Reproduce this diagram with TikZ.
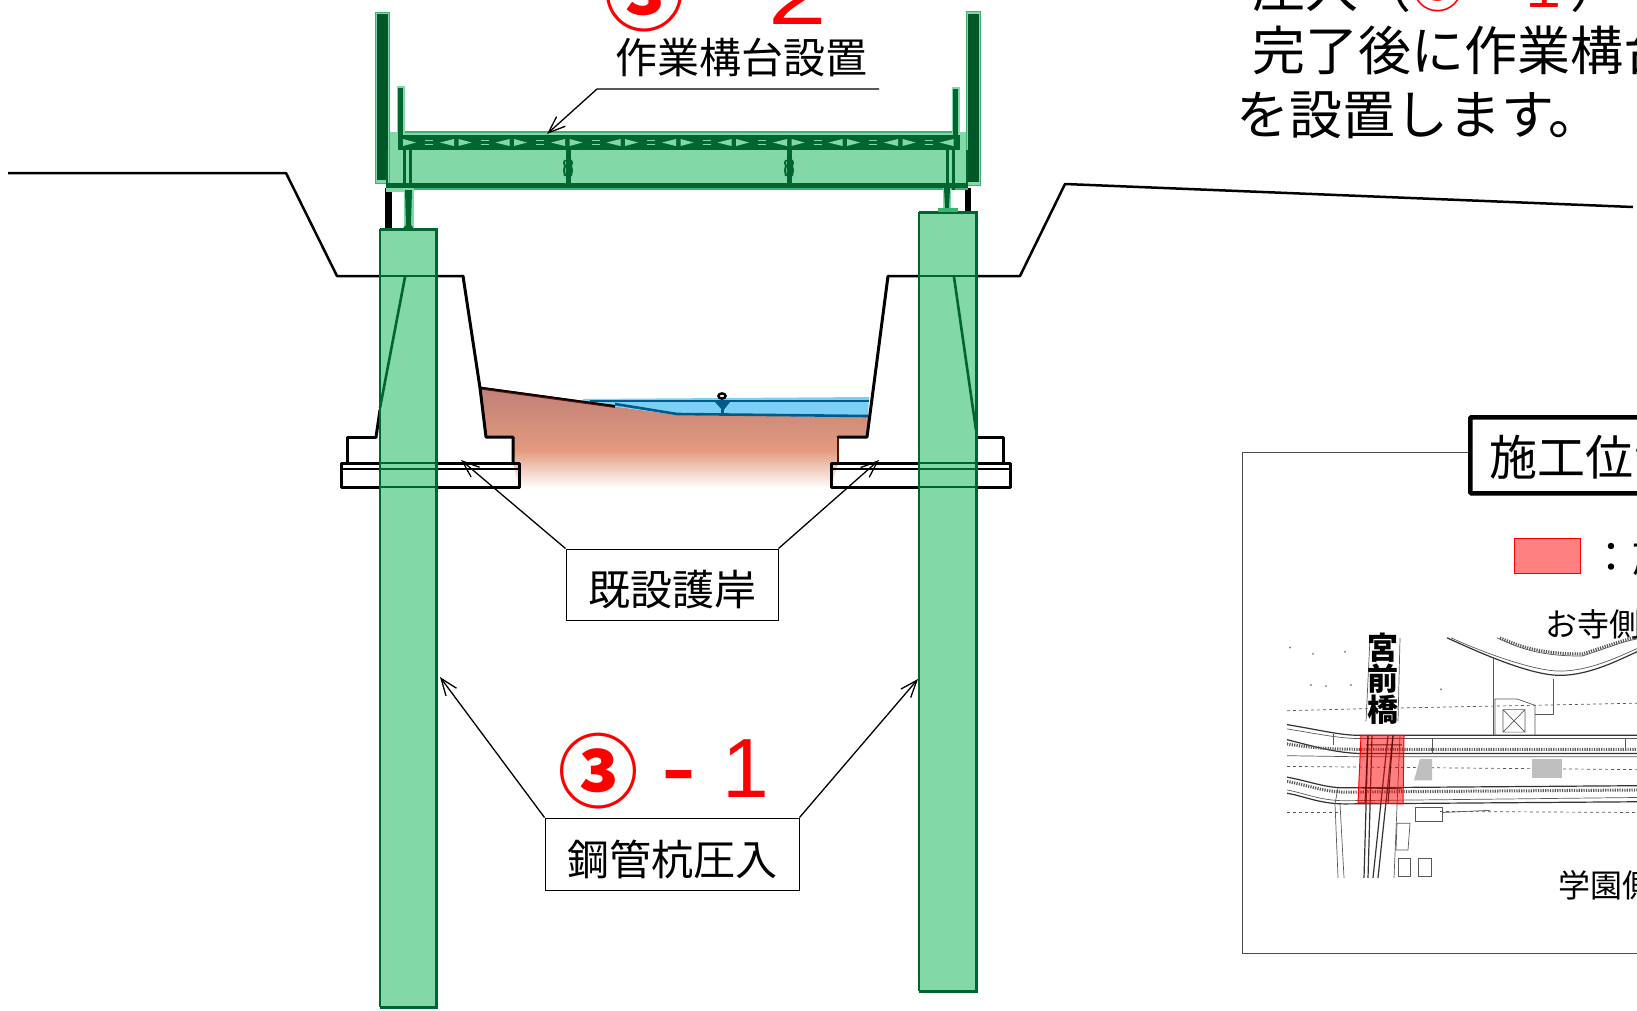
\documentclass[tikz,border=0pt]{standalone}
\usepackage{fontspec}
\setmainfont{Noto Sans CJK JP}
\newfontfamily\digitfont{Liberation Sans}
\usetikzlibrary{arrows.meta}
\definecolor{pilefill}{HTML}{83D8A7}
\definecolor{piledark}{HTML}{00662F}
\definecolor{halo}{HTML}{3CB371}
\definecolor{water}{HTML}{7BD0F5}
\definecolor{waterdark}{HTML}{005A8C}
\definecolor{soiltop}{HTML}{BE7F78}
\definecolor{soilmid}{HTML}{E39A7E}
\definecolor{soilline}{HTML}{5A1005}
\definecolor{labelred}{HTML}{FF0000}
\newcommand{\fs}[1]{\fontsize{#1}{#1}\selectfont}
\newcommand{\lowered}[1]{\raisebox{-21pt}[20pt][20pt]{#1}}
\tikzset{
 struct/.style={draw=black,line width=3pt,line join=round,line cap=round},
 ground/.style={draw=black,line width=2.5pt,line join=round},
 pline/.style={draw=piledark,line width=2.6pt},
 callout/.style={draw=black,line width=1pt,fill=white,inner sep=0pt,font=\fs{42}},
 leader/.style={draw=black,line width=1.3pt,-{Straight Barb[length=17pt,width=13pt,line width=1.3pt]}},
 plain/.style={inner sep=0pt,outer sep=0pt,anchor=base west},
 bigred/.style={inner sep=0pt,text=labelred,font=\fs{80}\bfseries},
 bigdigit/.style={inner sep=0pt,text=labelred,font=\fs{84}\digitfont},
 bigdash/.style={inner sep=0pt,text=labelred,font=\fs{105}\digitfont},
 mapl/.style={draw=black!65,line width=.7pt},
 mapd/.style={draw=black!80,line width=1.2pt},
 maph/.style={draw=black!65,line width=3pt,dash pattern=on 1.2pt off 1.2pt},
}
\begin{document}
\begin{tikzpicture}[x=1pt,y=-1pt]
\useasboundingbox (0,0) rectangle (1637,1010);
\clip (0,0) rectangle (1637,1010);
\fill[white] (0,0) rectangle (1637,1010);

% soil
\begin{scope}
\clip (480,388) -- (677,415) -- (868,417) -- (867,437) -- (838,437) -- (838,463) -- (831,487) -- (519,487) -- (513,463) -- (513,437) -- (486,437) -- cycle;
\shade[top color=soiltop,bottom color=soilmid] (470,385) rectangle (880,450);
\shade[top color=soilmid,bottom color=white] (470,450) rectangle (880,488);
\end{scope}
\draw[soilline,line width=2pt] (838,437) -- (838,463);
% water
\fill[water] (583,399) -- (869,397) -- (868,417) -- (677,415) -- (583,402) -- cycle;
\draw[waterdark,line width=2.8pt] (590,401) -- (869,401);
\draw[waterdark,line width=2.6pt] (615,404) -- (677,414) -- (868,416);
\fill[waterdark] (715,402) -- (730,402) -- (723,411) -- cycle;
\draw[waterdark,line width=2.4pt] (722.5,404) -- (722.5,414);
\draw[black,line width=2.4pt] (722,396) ellipse[x radius=3.6,y radius=2.6];
\draw[soilline,line width=2.8pt] (480,388) -- (615,406.5);
\draw[black,line width=1.6pt] (480,387.5) -- (615,406);

% ground lines
\draw[ground] (8,173) -- (286,173) -- (337,276) -- (463,276);
\draw[ground] (888,276) -- (1020,276) -- (1065,184) -- (1633,207);
% revetments
\draw[struct] (463,276) -- (480,388) -- (486,437) -- (513,437) -- (513,463);
\draw[struct] (888,276) -- (867,437) -- (838,437);
\draw[struct] (376,437) -- (347,437) -- (347,463);
\draw[struct] (376,437) -- (380,410);
\draw[struct] (976,437) -- (1003,437) -- (1003,463);
\draw[struct] (341,463) rectangle (519,487);
\draw[black,line width=1.6pt] (341,469) -- (519,469);
\draw[struct] (831,463) rectangle (1010,487);
\draw[black,line width=1.6pt] (831,469) -- (1010,469);

% black supports under deck
\fill[black] (385,188) rectangle (392,229);
\fill[black] (965,188) rectangle (971,212);

% piles
\fill[pilefill] (380,229) rectangle (437,1008);
\draw[piledark,line width=1.5pt] (380,229) -- (380,1007);
\draw[piledark,line width=3pt] (380,229) -- (436,229) -- (436,1007) -- (380,1007);
\fill[pilefill] (919,212) rectangle (977,991);
\draw[piledark,line width=1.5pt] (919,212) -- (919,991);
\draw[piledark,line width=3pt] (919,212) -- (976,212) -- (976,991) -- (919,991);
% lines seen through the piles
\foreach \ya in {276,463,469,487}{
 \draw[pline,line width=2.2pt] (380,\ya) -- (436,\ya);
 \draw[pline,line width=2.2pt] (919,\ya) -- (977,\ya);
}
\draw[pline] (380,408) -- (405,277);
\draw[pline] (954,277) -- (976,430);

% deck
\fill[pilefill] (387,132) rectangle (968,188);
\draw[halo,line width=1.2pt] (400,132) -- (955,132);
\draw[halo,line width=1.2pt] (387,189) -- (968,189);
% posts
\fill[pilefill] (375,12) rectangle (389,183);
\draw[halo,line width=1pt] (375,12) rectangle (389,183);
\fill[piledark!85!black] (377,14) rectangle (388,180);
\fill[pilefill] (966,11) rectangle (980,185);
\draw[halo,line width=1pt] (966,11) rectangle (980,185);
\fill[piledark!85!black] (968,14) rectangle (979,182);
% handrail uprights
\fill[pilefill] (397,86) rectangle (405,136);
\fill[piledark] (398,88) rectangle (403,136);
\fill[pilefill] (952,87) rectangle (960,136);
\fill[piledark] (953,89) rectangle (958,136);
% truss band
\fill[piledark] (398,135) rectangle (960,150);
\foreach \i in {0,...,9}{
 \pgfmathsetmacro{\xa}{403+55.5*\i}
 \fill[pilefill] (\xa,139) -- (\xa,146) -- (\xa+13,142.5) -- cycle;
 \fill[pilefill] (\xa+51,139) -- (\xa+51,146) -- (\xa+37,142.5) -- cycle;
 \draw[pilefill,line width=1pt] (\xa+22,140.5) -- (\xa+30,140.5) (\xa+22,144.5) -- (\xa+30,144.5);
}
% lower chord and stiffeners
\fill[piledark] (388,183) rectangle (968,188);
\foreach \xb in {403,409,946,952}{\fill[piledark] (\xb,150) rectangle (\xb+2.5,190);}
\foreach \xc in {568,789}{
 \fill[piledark] (\xc-2.5,150) rectangle (\xc+2.5,185);
 \draw[piledark,line width=2pt] (\xc-3,160) -- (\xc-4,163) -- (\xc-3,166) -- (\xc-4,170) -- (\xc-3,176);
 \draw[piledark,line width=2pt] (\xc+3,160) -- (\xc+4,163) -- (\xc+3,166) -- (\xc+4,170) -- (\xc+3,176);
}
\fill[pilefill] (386,188) rectangle (414,192);
\fill[piledark] (386,150) rectangle (387.5,188);
\fill[piledark] (966,150) rectangle (968,185);
% web to pile heads
\fill[pilefill] (404,190) rectangle (414,229);
\fill[piledark] (405,190) -- (412,190) -- (411,225) -- (414,229) -- (402,229) -- (406,225) -- cycle;
\fill[pilefill] (943,188) rectangle (951,212);
\fill[piledark] (944,188) -- (950,188) -- (949,208) -- (951,212) -- (943,212) -- (945,208) -- cycle;
\fill[halo] (938,208) rectangle (958,212);

% callouts
\node[callout,minimum width=212pt,minimum height=71pt] (kiSetsu) at (672,584.5) {\lowered{既設護岸}};
\coordinate (kiL) at (461,460);
\coordinate (kiR) at (879,460);
\draw[leader] (kiSetsu.north west) -- (kiL);
\draw[leader] (kiSetsu.north east) -- (kiR);
\node[callout,minimum width=254pt,minimum height=72pt] (koukan) at (672,854) {\lowered{鋼管杭圧入}};
\coordinate (koL) at (440,677);
\coordinate (koR) at (918,679);
\draw[leader] (koukan.north west) -- (koL);
\draw[leader] (koukan.north east) -- (koR);
\node[inner sep=0pt,font=\fs{42}] (sagyou) at (741,57) {作業構台設置};
\coordinate (saA) at (879,89);
\coordinate (saB) at (597,89);
\coordinate (saC) at (547,134);
\draw[leader] (saA) -- (saB) -- (saC);

% big red labels
\node[bigred] (r1a) at (598,771) {③};
\node[bigdash] (r1b) at (679,786) {-};
\node[bigdigit] (r1c) at (746,769) {1};
\node[bigred] (r2a) at (644.5,-6) {③};
\node[bigdigit,xscale=1.25] (r2c) at (798,-5) {2};

% explanation text
\node[plain,font=\fs{53}] (t1) at (1252,7) {圧入（\textcolor{labelred}{③－１}）};
\node[plain,font=\fs{53}] (t2) at (1252,70) {完了後に作業構台};
\node[plain,font=\fs{53}] (t3) at (1236,134) {を設置します。};

% inset frame
\draw[black!70,line width=1pt] (1660,452) -- (1242,452) -- (1242,953) -- (1660,953);
\node[draw=black,line width=4.5pt,rounded corners=1pt,fill=white,anchor=north west,minimum width=260pt,minimum height=76pt,inner sep=0pt] (ttl) at (1468,415) {};
\node[plain,anchor=west,font=\fs{48}] (ttlt) at (1489,457) {施工位置};
\node[draw=red,line width=1pt,fill=red!50,anchor=north west,minimum width=66pt,minimum height=35pt,inner sep=0pt] (leg) at (1514,538) {};
\node[plain,anchor=west,font=\fs{42}] (legt) at (1590,556) {：施工箇所};

% map linework
\begin{scope}[yshift=28.57pt,yscale=1.0714]
\clip (1287,620) rectangle (1637,846);
% road bands
\draw[mapd] (1287,703) .. controls (1320,708) and (1340,713) .. (1360,713) -- (1637,713);
\draw[mapl] (1287,707) .. controls (1320,712) and (1340,716) .. (1360,716) -- (1637,716);
\draw[mapd] (1287,717) .. controls (1320,725) and (1340,730) .. (1365,730) -- (1637,730);
\draw[maph] (1287,721) .. controls (1320,726) and (1340,726) .. (1365,726) -- (1637,726);
\draw[mapl] (1287,732) -- (1360,733) -- (1637,733);
\draw[mapl,dashed] (1287,742) -- (1637,745);
\draw[mapd] (1287,752) .. controls (1310,756) and (1325,762) .. (1345,762) -- (1637,760);
\draw[maph] (1287,756) .. controls (1310,760) and (1325,766) .. (1345,766) -- (1637,764);
\draw[mapd] (1287,767) .. controls (1305,770) and (1320,777) .. (1345,777) -- (1637,775);
\draw[mapl] (1287,764) .. controls (1305,767) and (1320,774) .. (1345,774) -- (1450,773) -- (1637,771);
\draw[mapl,dashed] (1287,785) -- (1340,785);
\draw[mapl,dashed] (1440,784) -- (1637,785);
\draw[mapl,dashed] (1287,690) -- (1370,688) -- (1637,683);
\draw[mapl] (1333,712) -- (1333,722) (1432,716) -- (1432,730) (1625,716) -- (1625,728);
\draw[mapl] (1335,777) -- (1338,762);
% bridge / river lines
\draw[mapl] (1366,700) -- (1370,622) (1398,700) -- (1400,622);
\draw[mapd] (1368,713) -- (1364,846) (1372,713) -- (1368,846);
\draw[mapd] (1393,713) -- (1378,846) (1388,713) -- (1373,846);
\draw[mapl] (1400,713) -- (1394,846);
\draw[mapl] (1335,777) -- (1338,846) (1340,777) -- (1344,846);
% upper curved roads
\draw[mapd] (1447,622) .. controls (1480,636) and (1530,657) .. (1560,657) .. controls (1590,657) and (1620,642) .. (1637,635);
\draw[mapl] (1451,622) .. controls (1484,636) and (1534,653) .. (1560,653) .. controls (1590,653) and (1620,639) .. (1637,632);
\draw[mapl] (1497,622) .. controls (1520,632) and (1540,639) .. (1582,639) .. controls (1600,634) and (1620,626) .. (1637,623);
\draw[maph] (1500,622) .. controls (1520,630) and (1540,637) .. (1582,637) .. controls (1600,632) and (1620,625) .. (1637,621);
% building outline
\draw[mapl] (1493,640) -- (1493,713);
\draw[mapl] (1495,713) -- (1495,679) -- (1517,679) -- (1535,685) -- (1535,713);
\draw[mapl] (1535,693) -- (1553,693) -- (1553,660);
\draw[mapl] (1503,689) rectangle (1525,710) (1503,689) -- (1525,710) (1525,689) -- (1503,710);
% hatch patches
\fill[black!25] (1420,735) -- (1432,735) -- (1432,755) -- (1414,755) -- cycle;
\fill[black!25] (1532,735) rectangle (1562,753);
% lower details
\draw[mapl] (1397,795) -- (1410,795) -- (1408,820) -- (1396,820) -- cycle;
\draw[mapl] (1415,780) rectangle (1442,793);
\draw[mapl] (1442,785) -- (1490,783);
\draw[mapl] (1398,828) rectangle (1410,845) (1418,828) rectangle (1431,845);
\foreach \pt in {(1290,631),(1313,637),(1345,635),(1311,666),(1326,667),(1351,666),(1441,670)}{\fill[black!50] \pt circle[radius=1];}
% bridge site
\fill[red,opacity=.5] (1361,713) -- (1404,713) -- (1403,777) -- (1358,776) -- cycle;
\draw[red,line width=1pt] (1361,713) -- (1404,713) -- (1403,777) -- (1358,776) -- cycle;
\draw[black!70!red,line width=1pt,opacity=.8] (1366,722) -- (1402,722) (1362,762) -- (1402,763) (1368,713) -- (1365,776) (1393,713) -- (1388,776);
\end{scope}
\node[inner sep=0pt,align=center,font=\fs{31}\bfseries] (hashi) at (1383,679) {宮\\前\\橋};
\node[plain,anchor=west,font=\fs{32}] (tera) at (1545,624) {お寺側};
\node[plain,anchor=west,font=\fs{32}] (gaku) at (1558,885) {学園側};
\end{tikzpicture}
\end{document}
